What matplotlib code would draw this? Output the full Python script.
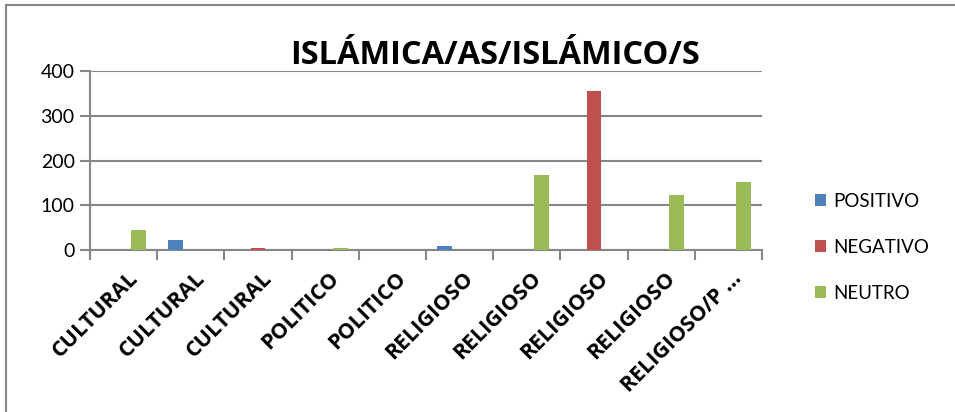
import numpy as np
import matplotlib
matplotlib.use("Agg")
import matplotlib.pyplot as plt
from matplotlib.patches import Rectangle

categories = ['CULTURAL', 'CULTURAL', 'CULTURAL', 'POLITICO', 'POLITICO',
              'RELIGIOSO', 'RELIGIOSO', 'RELIGIOSO', 'RELIGIOSO', 'RELIGIOSO/P …']
positivo = [0, 22, 0, 0, 0, 10, 0, 0, 0, 0]
negativo = [0, 0, 5, 0, 0, 0, 0, 356, 0, 0]
neutro = [45, 0, 0, 4, 0, 0, 167, 0, 124, 152]
series = ['POSITIVO', 'NEGATIVO', 'NEUTRO']
colors = ['#4F81BD', '#C0504D', '#9BBB59']

plt.rcParams['font.family'] = ['Lato', 'DejaVu Sans']
grey = '#868686'

fig = plt.figure(figsize=(9.55, 4.12), dpi=100)
ax = fig.add_axes([90/955, 1-250/412, 672/955, 179/412])

x = np.arange(len(categories))
w = 1/4.5
for i, (vals, name, c) in enumerate(zip([positivo, negativo, neutro], series, colors)):
    ax.bar(x + (i-1)*w, vals, w, color=c, label=name, zorder=3)

ax.set_xlim(-0.5, len(categories)-0.5)
ax.set_ylim(0, 400)
ax.set_yticks([0, 100, 200, 300, 400])
ax.yaxis.grid(True, color=grey, linewidth=1.5, zorder=0)
ax.tick_params(axis='y', length=7, width=1.5, color=grey, labelsize=14, pad=4)

ax.set_xticks(np.arange(len(categories)+1) - 0.5)
ax.set_xticklabels([])
ax.tick_params(axis='x', length=7, width=1.5, color=grey)
for xi, lab in zip(x, categories):
    ax.text(xi + 0.05, -40, lab, rotation=45, ha='right', va='top',
            rotation_mode='anchor', fontsize=15.5, fontweight='bold',
            family=['Open Sans', 'DejaVu Sans'],
            transform=ax.transData, clip_on=False)

for s in ['top', 'right']:
    ax.spines[s].set_visible(False)
for s in ['left', 'bottom']:
    ax.spines[s].set_color(grey)
    ax.spines[s].set_linewidth(1.5)

fig.text(495/955, 1-55/412, 'ISLÁMICA/AS/ISLÁMICO/S', ha='center', va='center',
         fontsize=23.5, fontweight='bold', family=['Open Sans', 'DejaVu Sans'])

fig.legend(loc='upper left', bbox_to_anchor=(798/955, 1-176/412), frameon=False,
           fontsize=13.5, handlelength=0.6, handleheight=0.6, handletextpad=0.4,
           labelspacing=1.55)

fig.patches.append(Rectangle((6/955, -0.1), 1.2, 1.1 - 5/412, transform=fig.transFigure,
                             fill=False, edgecolor=grey, linewidth=1.5))

fig.savefig('out.png', dpi=100)
